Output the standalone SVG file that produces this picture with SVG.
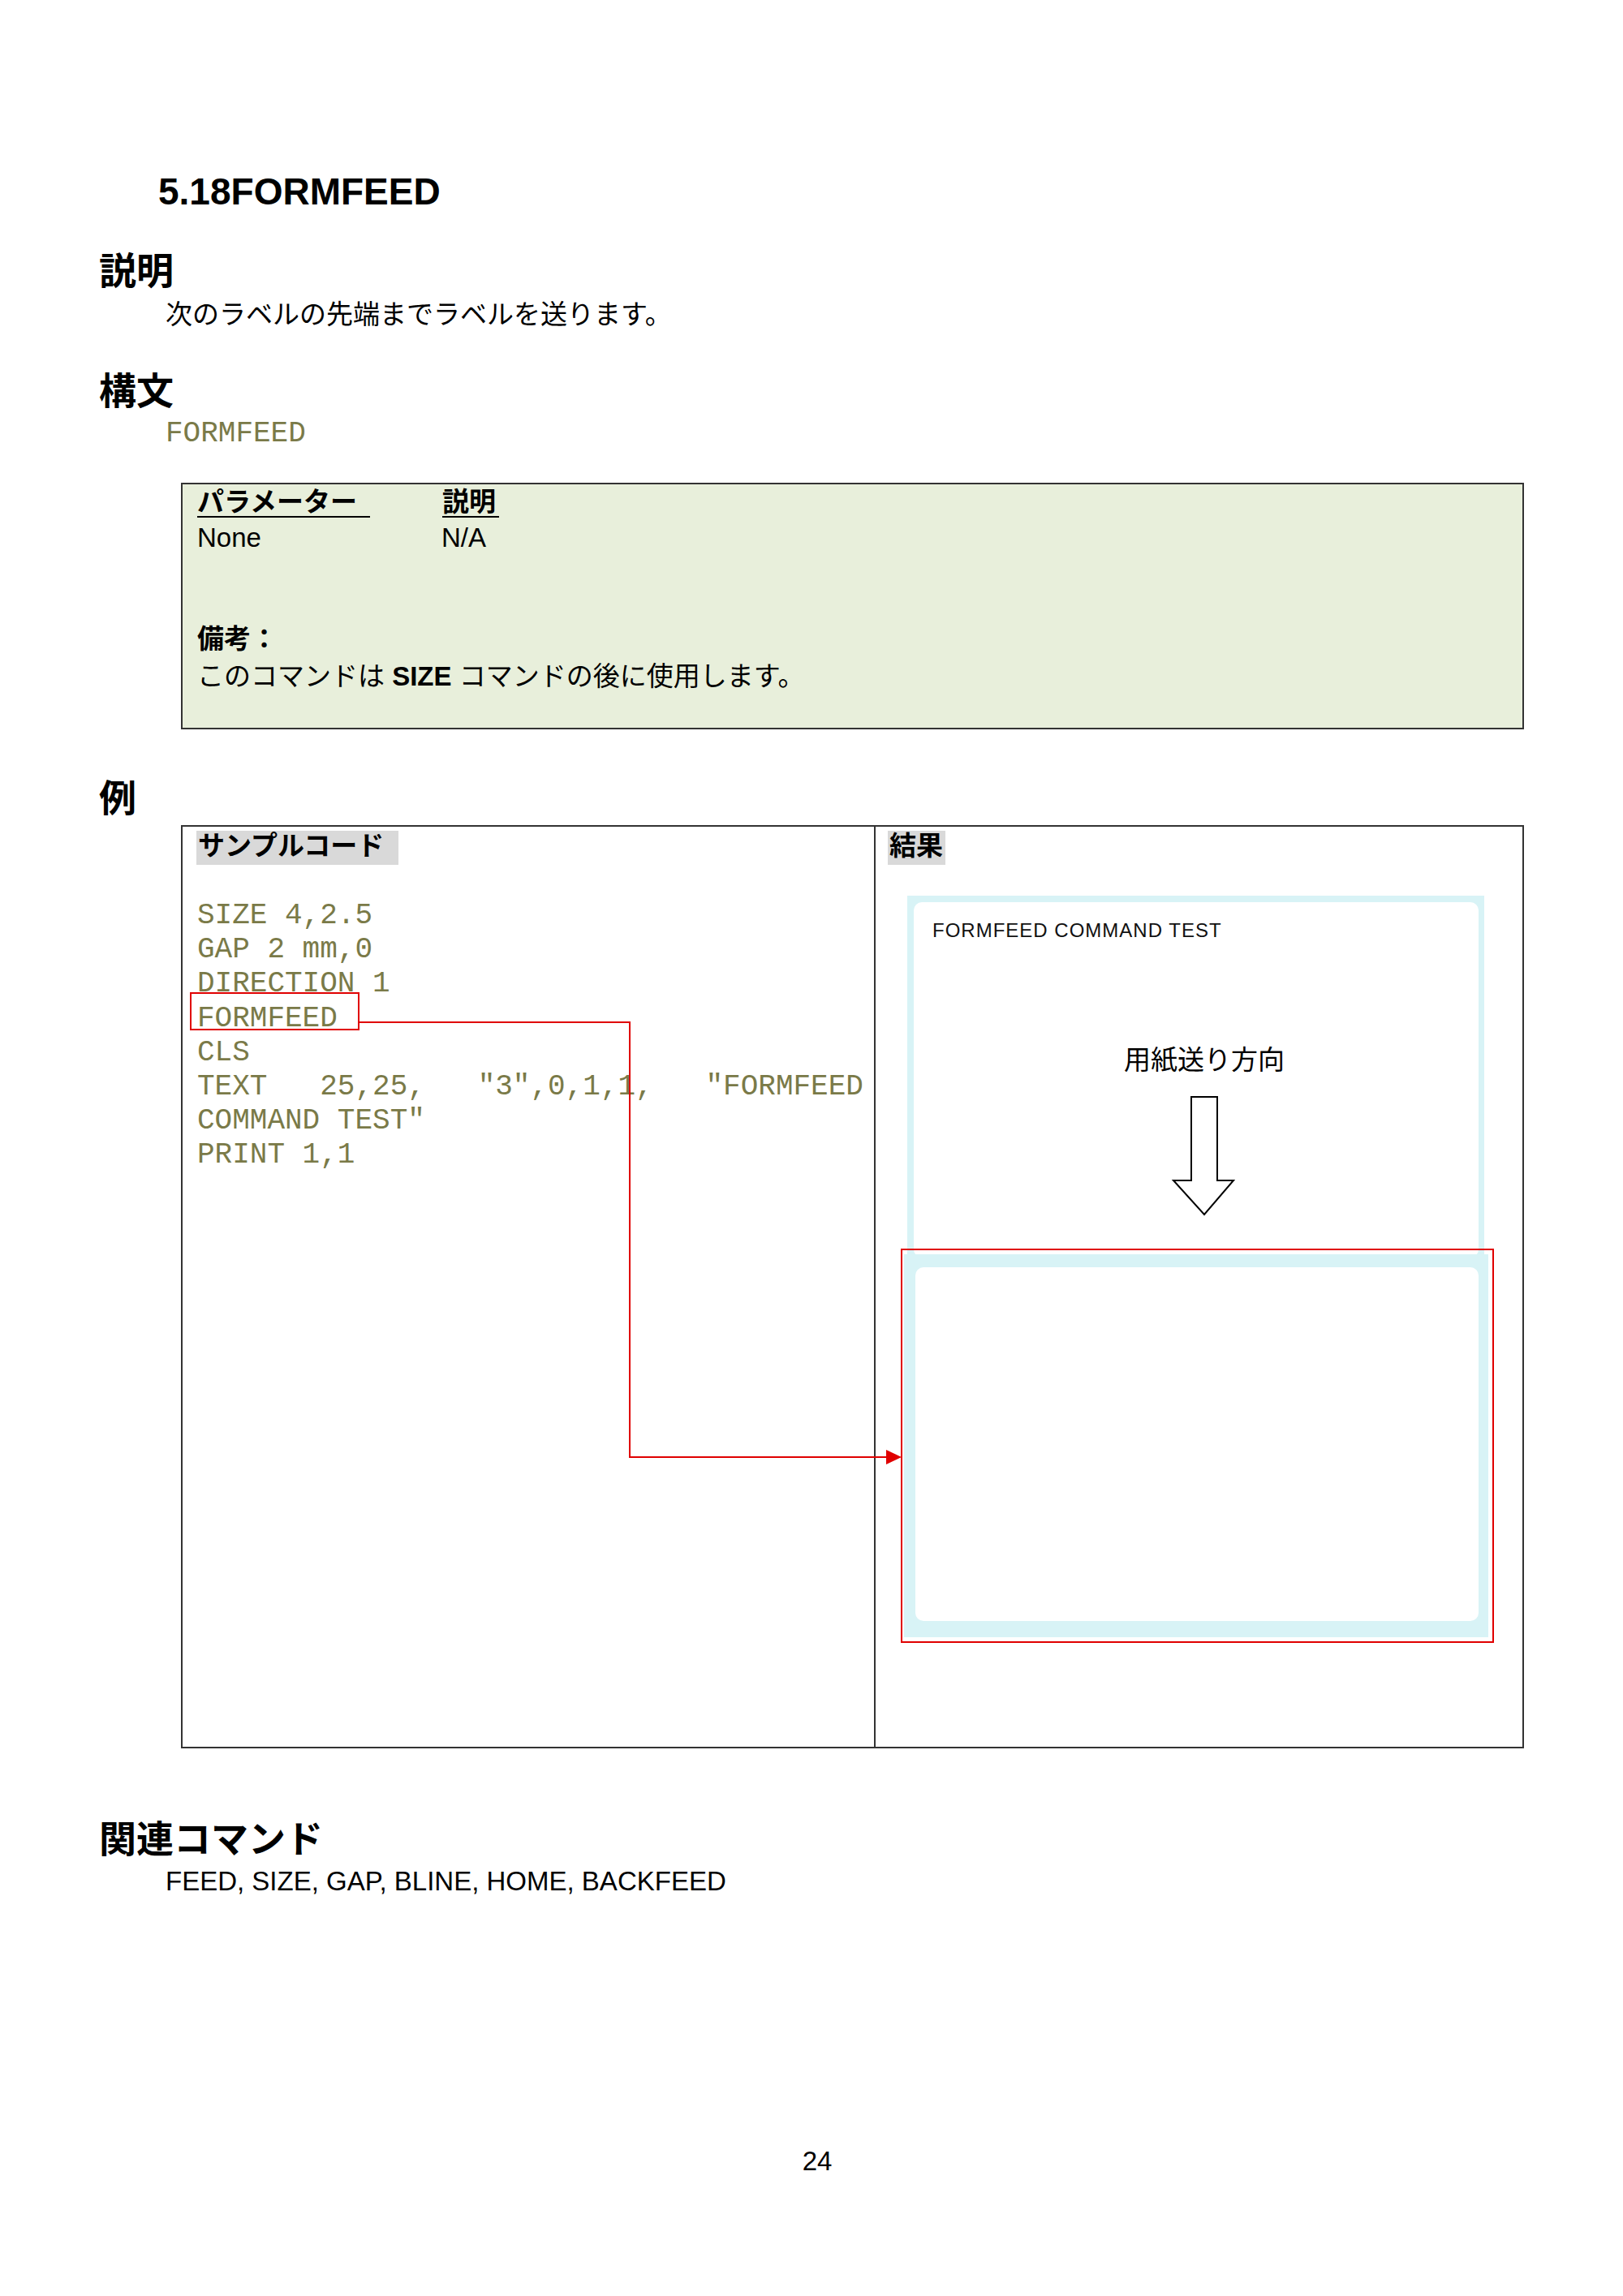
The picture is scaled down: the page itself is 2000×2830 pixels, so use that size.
<svg xmlns="http://www.w3.org/2000/svg" width="2000" height="2830" viewBox="0 0 2000 2830">
<defs>
<style>
.s{font-family:"Liberation Sans","Noto Sans CJK JP",sans-serif;fill:#000}
.h{font-family:"Liberation Sans","Noto Sans CJK JP",sans-serif;font-weight:bold;font-size:46px}
.b{font-size:33px}
.m{font-family:"Liberation Mono",monospace;font-size:36px;fill:#7a7a48}
</style>
</defs>
<rect width="2000" height="2830" fill="#fff"/>
<text class="h" x="195" y="252" font-size="44">5.18FORMFEED</text>
<text class="h" x="122" y="350">説明</text>
<text class="s b" x="204" y="399">次のラベルの先端までラベルを送ります。</text>
<text class="h" x="122" y="498">構文</text>
<text class="m" x="204" y="544" font-size="32">FORMFEED</text>

<g id="param-table">
<rect x="224" y="596" width="1653" height="302" fill="#e8efdb" stroke="#333" stroke-width="2"/>
<text class="s b" x="243" y="630" font-weight="bold">パラメーター</text>
<line x1="243" y1="637" x2="456" y2="637" stroke="#000" stroke-width="2"/>
<text class="s b" x="545" y="630" font-weight="bold">説明</text>
<line x1="545" y1="637" x2="615" y2="637" stroke="#000" stroke-width="2"/>
<text class="s b" x="243" y="674">None</text>
<text class="s b" x="544" y="674">N/A</text>
<text class="s b" x="243" y="799" font-weight="bold">備考：</text>
<text class="s b" x="243" y="845">このコマンドは <tspan font-weight="bold">SIZE</tspan> コマンドの後に使用します。</text>
</g>

<text class="h" x="122" y="1000">例</text>

<g id="example">
<rect x="224" y="1018" width="1653" height="1136" fill="#fff" stroke="#333" stroke-width="2"/>
<line x1="1078" y1="1018" x2="1078" y2="2154" stroke="#333" stroke-width="2"/>
<rect x="242" y="1024" width="249" height="42" fill="#d9d9d9"/>
<text class="s b" x="244" y="1054" font-weight="bold">サンプルコード</text>
<rect x="1094" y="1024" width="71" height="42" fill="#d9d9d9"/>
<text class="s b" x="1096" y="1054" font-weight="bold">結果</text>
<g class="m">
<text x="243" y="1138">SIZE 4,2.5</text>
<text x="243" y="1180">GAP 2 mm,0</text>
<text x="243" y="1222">DIRECTION 1</text>
<text x="243" y="1265">FORMFEED</text>
<text x="243" y="1307">CLS</text>
<text x="243" y="1349" xml:space="preserve">TEXT   25,25,   "3",0,1,1,   "FORMFEED</text>
<text x="243" y="1391">COMMAND TEST"</text>
<text x="243" y="1433">PRINT 1,1</text>
</g>
</g>

<g id="result-labels">
<rect x="1118" y="1104" width="711" height="446" fill="#d8f3f6"/>
<rect x="1126" y="1112" width="696" height="438" rx="10" fill="#fff"/>
<rect x="1114" y="1546" width="720" height="472" fill="#d8f3f6"/>
<rect x="1128" y="1562" width="694" height="436" rx="10" fill="#fff"/>
<text x="1149" y="1155" font-family="'Liberation Sans Narrow','Liberation Sans',sans-serif" font-size="24" letter-spacing="1" fill="#111">FORMFEED COMMAND TEST</text>
<text class="s b" x="1484" y="1318" text-anchor="middle">用紙送り方向</text>
<path d="M1468,1352 H1500 V1455 H1520 L1484,1497 L1446,1455 H1468 Z" fill="#fff" stroke="#000" stroke-width="2"/>
</g>

<g id="connectors" fill="none" stroke="#e00000" stroke-width="2">
<rect x="235" y="1224" width="207" height="45"/>
<polyline points="442,1260 776,1260 776,1796 1094,1796"/>
<path d="M1092,1787 L1111,1796 L1092,1805 Z" fill="#e00000" stroke="none"/>
<rect x="1111" y="1540" width="729" height="484"/>
</g>

<text class="h" x="122" y="2283">関連コマンド</text>
<text class="s b" x="204" y="2330">FEED, SIZE, GAP, BLINE, HOME, BACKFEED</text>
<text class="s b" x="1007" y="2675" text-anchor="middle">24</text>
</svg>
